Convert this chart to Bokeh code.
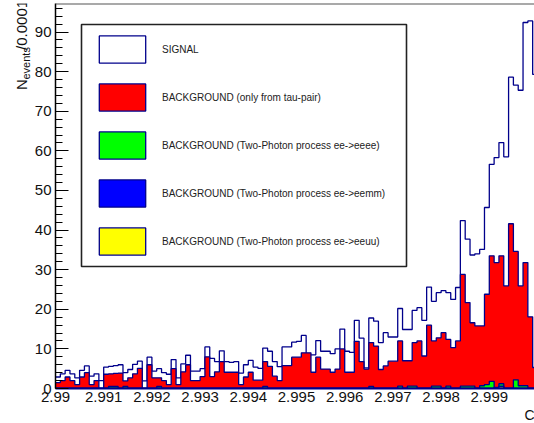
import numpy as np
from bokeh.plotting import figure
from bokeh.layouts import row
from bokeh.core.properties import value
from bokeh.models import (ColumnDataSource, Range1d, SingleIntervalTicker, FixedTicker,
                          NumeralTickFormatter, Legend, LegendItem, BoxAnnotation, Span, Title)
from bokeh.embed import file_html
from bokeh.resources import INLINE

# ---------------- data ----------------
x_start = 2.99
bin_width = 0.0001

signal = [
    2.9, 3.7, 4.6, 3.7, 2.7, 4.6, 5.7, 3.1, 3.7, 2.0,
    5.4, 5.6, 5.8, 6.0, 4.0, 4.8, 6.1, 6.9, 1.9, 7.9,
    4.4, 5.0, 4.0, 3.6, 7.3, 2.7, 6.2, 8.4, 4.4, 4.4,
    5.0, 10.5, 7.6, 6.8, 9.5, 6.8, 6.6, 6.8, 3.9, 6.0,
    7.1, 5.4, 5.1, 10.2, 9.4, 6.8, 5.5, 10.5, 10.5, 11.7,
    11.9, 13.4, 8.5, 8.5, 12.1, 9.4, 9.4, 8.8, 10.0, 15.0,
    9.4, 9.1, 17.2, 12.7, 5.2, 17.8, 17.0, 11.6, 14.1, 13.0,
    13.0, 20.2, 14.9, 14.9, 19.7, 20.4, 17.2, 25.6, 22.0, 24.2,
    24.7, 24.2, 22.5, 25.5, 42.4, 37.7, 33.7, 34.0, 35.1, 45.7,
    56.6, 58.3, 62.1, 58.5, 78.6, 76.6, 75.3, 92.4, 92.8, 79.3]

bkg_tau = [
    1.5, 2.0, 2.9, 2.0, 1.0, 2.9, 4.0, 1.0, 2.0, 0.0,
    3.6, 3.7, 3.8, 3.9, 1.9, 2.7, 3.7, 5.1, 0.0, 6.0,
    2.7, 2.7, 2.0, 1.0, 5.0, 1.0, 4.2, 6.0, 2.0, 2.0,
    3.0, 8.0, 3.0, 4.2, 6.8, 4.1, 4.1, 4.1, 1.0, 2.9,
    4.1, 2.1, 2.1, 6.8, 5.6, 3.1, 2.0, 5.8, 5.8, 7.9,
    7.9, 9.0, 9.0, 4.1, 7.9, 4.9, 4.9, 4.1, 4.9, 10.0,
    4.1, 4.1, 11.9, 6.8, 4.9, 11.6, 10.7, 4.8, 5.7, 6.9,
    6.9, 12.0, 7.0, 7.0, 11.6, 12.0, 8.2, 16.0, 12.0, 12.8,
    14.1, 12.4, 10.3, 12.0, 28.8, 21.7, 16.6, 15.8, 15.8, 23.8,
    33.5, 31.8, 33.5, 25.9, 41.6, 34.6, 25.9, 31.8, 18.1, 5.3]

bkg_eeee = [
    0, 0, 0, 0, 0, 0, 0, 0, 0, 0,
    0, 0.5, 0.5, 0, 0.5, 0, 0, 0, 0, 0,
    0, 0.5, 0, 0, 0, 0, 0, 0, 0, 0,
    0, 0, 0, 0, 0, 0, 0, 0, 0, 0,
    0, 0, 0, 0.5, 0, 0, 0, 0, 0, 0,
    0, 0, 0, 0, 0, 0, 0, 0, 0, 0,
    0, 0, 0, 0, 0, 0.5, 0, 0, 0, 0,
    0, 0.6, 0, 0.6, 0.6, 0, 0, 0, 0.6, 0.6,
    0, 0.6, 0, 0, 0.6, 0.6, 0.6, 0, 0.7, 1.0,
    1.8, 0, 1.2, 0, 0, 2.2, 0.7, 0.7, 0, 0]

bkg_eemm = [0.0] * 91 + [0.3, 0.6] + [0.0] * 7
bkg_eeuu = [0.0] * 92 + [0.4] + [0.0] * 7

legend_labels = ["SIGNAL",
                 "BACKGROUND (only from tau-pair)",
                 "BACKGROUND (Two-Photon process ee->eeee)",
                 "BACKGROUND (Two-Photon process ee->eemm)",
                 "BACKGROUND (Two-Photon process ee->eeuu)"]
fill_colors = ["white", "#ff0000", "#00ff00", "#0000ff", "#ffff00"]
x_ticks = [2.99, 2.991, 2.992, 2.993, 2.994, 2.995, 2.996, 2.997, 2.998, 2.999, 3.0]
y_title_parts = ["N", "events", "/0.0001"]
x_title = "C"

# ---------------- geometry ----------------
W, H = 534, 423
STRIP = 31                      # width of the strip holding the y title
frame_left, frame_right, frame_top, frame_bottom = 55, 534, 3, 388
x0, x1 = 2.99, 2.99 + (frame_right - frame_left) / 48.2 * 0.001
y0, y1 = 0.0, 97.2

def xd(px):
    return x0 + (px - frame_left) * (x1 - x0) / (frame_right - frame_left)

def yd(py):
    return y0 + (frame_bottom - py) * (y1 - y0) / (frame_bottom - frame_top)

FONT = "Liberation Sans"
OUTLINE = "#00008b"

p = figure(width=W - STRIP, height=H, output_backend="svg", toolbar_location=None, title=None,
           x_range=Range1d(x0, x1), y_range=Range1d(y0, y1),
           min_border_left=frame_left - STRIP, min_border_right=W - frame_right,
           min_border_top=frame_top, min_border_bottom=H - frame_bottom)
p.xgrid.visible = False
p.ygrid.visible = False
p.outline_line_color = None
p.background_fill_color = "white"
p.border_fill_color = "white"

edges = np.round(x_start + bin_width * np.arange(len(signal) + 1), 6)

series = [signal, bkg_tau, bkg_eeee, bkg_eemm, bkg_eeuu]
for vals, fc in zip(series, fill_colors):
    yv = list(vals) + [vals[-1]]
    src = ColumnDataSource(dict(x=edges, y=yv))
    p.varea_step(x="x", y1=0, y2="y", step_mode="after", source=src, fill_color=fc)
    p.step(x="x", y="y", mode="after", source=src, line_color=OUTLINE, line_width=1.3)

# legend glyph proxies (one zero-size quad outside the visible range)
items = []
for lab, fc in zip(legend_labels, fill_colors):
    r = p.quad(left=[x0 - 0.001], right=[x0 - 0.001], top=[0], bottom=[0], fill_color=fc,
               line_color=OUTLINE, line_width=1.3)
    items.append(LegendItem(label=lab, renderers=[r]))

box = BoxAnnotation(left=xd(81), right=xd(406), top=yd(24), bottom=yd(266),
                    fill_color="white", fill_alpha=1.0, line_color="#222222",
                    line_alpha=1.0, line_width=1.6)
p.add_layout(box)

legend = Legend(items=items, location=(93 - frame_left, frame_bottom - 258),
                orientation="vertical", glyph_width=58, glyph_height=34, spacing=14,
                padding=0, margin=0, label_standoff=11,
                label_text_font=FONT, label_text_font_size="10px",
                label_text_color="#222222",
                border_line_color=None, background_fill_alpha=0)
p.add_layout(legend, "center")

# top frame line
p.add_layout(Span(location=y1, dimension="width", line_color="#555555", line_width=2))

# axes
p.yaxis.ticker = SingleIntervalTicker(interval=10, num_minor_ticks=5)
p.yaxis.major_tick_in = 13
p.yaxis.major_tick_out = 0
p.yaxis.minor_tick_in = 7
p.yaxis.minor_tick_out = 0
p.yaxis.major_tick_line_color = "black"
p.yaxis.minor_tick_line_color = "black"
p.yaxis.axis_line_color = "black"
p.yaxis.axis_line_width = 1.5
p.yaxis.major_label_standoff = 4
p.yaxis.major_label_text_font = FONT
p.yaxis.major_label_text_font_size = "15px"
p.yaxis.major_label_text_color = "#111111"

p.xaxis.ticker = FixedTicker(ticks=x_ticks, minor_ticks=[])
p.xaxis.formatter = NumeralTickFormatter(format="0.[000]")
p.xaxis.major_tick_in = 0
p.xaxis.major_tick_out = 0
p.xaxis.minor_tick_in = 0
p.xaxis.minor_tick_out = 0
p.xaxis.axis_line_color = OUTLINE
p.xaxis.axis_line_width = 2
p.xaxis.major_label_standoff = 3
p.xaxis.major_label_text_font = FONT
p.xaxis.major_label_text_font_size = "15px"
p.xaxis.major_label_text_color = "#111111"

# x-axis title, right aligned at the end of the axis
aligned = False
try:
    p.xaxis.axis_label_align = "right"
    aligned = True
except Exception:
    aligned = False
if aligned:
    p.xaxis.axis_label = x_title
    p.xaxis.axis_label_standoff = 0
    p.xaxis.axis_label_text_font = FONT
    p.xaxis.axis_label_text_font_size = "14px"
    p.xaxis.axis_label_text_font_style = "normal"
    p.xaxis.axis_label_text_color = "#111111"
else:
    p.add_layout(Title(text=x_title, align="right", text_font=FONT, text_font_size="14px",
                       text_font_style="normal", text_color="#111111", standoff=0), "below")

# ---------------- y title strip ----------------
s = figure(width=STRIP, height=H, output_backend="svg", toolbar_location=None, title=None,
           x_range=Range1d(0, STRIP), y_range=Range1d(0, H),
           x_axis_location=None, y_axis_location=None,
           min_border=0, min_border_left=0, min_border_right=0,
           min_border_top=0, min_border_bottom=0)
s.xgrid.visible = False
s.ygrid.visible = False
s.outline_line_color = None
s.background_fill_color = "white"
s.border_fill_color = "white"

# (centre x, start y from top, font size) for each part of the title
title_pos = [(20.5, 95, "15px"), (25.5, 83.5, "11px"), (20.5, 51, "15px")]
for txt, (px, py, fs) in zip(y_title_parts, title_pos):
    s.text(x=[px], y=[H - py], text=[txt], angle=np.pi / 2,
           text_font=value(FONT), text_font_size=value(fs), text_color="#111111",
           text_align="left", text_baseline="middle")

layout = row(s, p, spacing=0)
open("out.html", "w").write(file_html(layout, INLINE))
